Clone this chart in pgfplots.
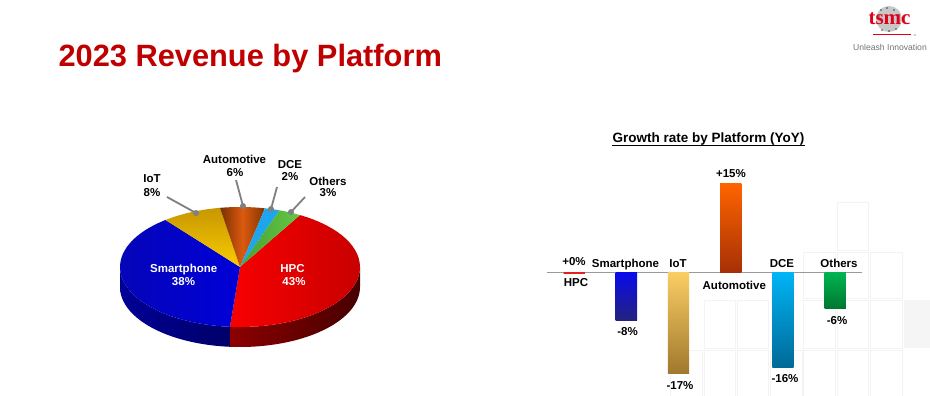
\documentclass[border=0pt]{standalone}
\usepackage{fontspec}
\setmainfont{Liberation Sans}
\newfontfamily\serifb{Liberation Serif}
\usepackage{pgfplots}
\pgfplotsset{compat=1.18}
\definecolor{ttl}{HTML}{C00000}
\definecolor{logored}{HTML}{E0001A}
\definecolor{hpcA}{RGB}{248,0,0}\definecolor{hpcB}{RGB}{200,0,0}
\definecolor{hpcSA}{RGB}{140,0,0}\definecolor{hpcSB}{RGB}{70,0,0}
\definecolor{spA}{RGB}{5,5,185}\definecolor{spB}{RGB}{0,0,215}
\definecolor{spSA}{RGB}{0,0,150}\definecolor{spSB}{RGB}{0,0,105}
\definecolor{iotA}{RGB}{200,150,0}\definecolor{iotB}{RGB}{248,205,0}
\definecolor{auA}{RGB}{120,48,0}\definecolor{auM}{RGB}{220,90,16}\definecolor{auB}{RGB}{130,52,0}
\definecolor{dceC}{RGB}{30,165,235}
\definecolor{othA}{RGB}{70,160,50}\definecolor{othB}{RGB}{100,200,70}
\definecolor{barHPC}{RGB}{230,30,30}
\definecolor{barSPa}{RGB}{10,10,235}\definecolor{barSPb}{RGB}{35,35,125}
\definecolor{barIOa}{RGB}{250,205,100}\definecolor{barIOb}{RGB}{160,120,45}
\definecolor{barAUa}{RGB}{255,100,0}\definecolor{barAUb}{RGB}{165,48,5}
\definecolor{barDCa}{RGB}{0,180,245}\definecolor{barDCb}{RGB}{0,105,150}
\definecolor{barOTa}{RGB}{0,180,80}\definecolor{barOTb}{RGB}{0,120,48}
\definecolor{sq}{RGB}{243,243,243}
\newcommand\lab{\fontsize{11.5}{13}\selectfont\bfseries}
% pie shares (percent), clockwise from 60 deg
\def\vHPC{43}\def\vSP{38}\def\vIoT{8}\def\vAuto{6}\def\vDCE{2}\def\vOth{3}
\pgfmathsetmacro\aA{60}
\pgfmathsetmacro\aB{\aA-3.6*\vHPC}
\pgfmathsetmacro\aC{\aB-3.6*\vSP}
\pgfmathsetmacro\aD{\aC-3.6*\vIoT}
\pgfmathsetmacro\aE{\aD-3.6*\vAuto}
\pgfmathsetmacro\aF{\aE-3.6*\vDCE}
\pgfmathsetmacro\aG{\aF-3.6*\vOth}
\newcommand\topface[2]{(240,267) -- plot[domain=#1:#2,samples=40] ({240+120*cos(\x)},{267-60*sin(\x)}) -- cycle}
\newcommand\sideface[2]{plot[domain=#1:#2,samples=40] ({240+120*cos(\x)},{267-60*sin(\x)}) -- plot[domain=#2:#1,samples=40] ({240+120*cos(\x)},{287-60*sin(\x)}) -- cycle}
\begin{document}
\begin{tikzpicture}
\useasboundingbox (0,0) rectangle (930pt,396pt);
\fill[white] (0,0) rectangle (930pt,396pt);
\begin{axis}[at={(0pt,0pt)}, anchor=south west, scale only axis, width=930pt, height=396pt,
  xmin=0, xmax=930, ymin=0, ymax=396, y dir=reverse, hide axis, clip=false]
% faint background squares
\draw[sq, line width=0.8pt] (837,202) rectangle (868,250);
\draw[sq, line width=0.8pt] (803,252) rectangle (835,298);
\draw[sq, line width=0.8pt] (837,252) rectangle (868,298);
\draw[sq, line width=0.8pt] (870,252) rectangle (902,298);
\draw[sq, line width=0.8pt] (704,300) rectangle (735,348);
\draw[sq, line width=0.8pt] (737,300) rectangle (768,348);
\draw[sq, line width=0.8pt] (803,300) rectangle (835,348);
\draw[sq, line width=0.8pt] (837,300) rectangle (868,348);
\draw[sq, line width=0.8pt] (870,300) rectangle (902,348);
\fill[black!4] (904,300) rectangle (930,348);
\draw[sq, line width=0.8pt] (670,350) rectangle (702,396);
\draw[sq, line width=0.8pt] (704,350) rectangle (735,396);
\draw[sq, line width=0.8pt] (737,350) rectangle (768,396);
\draw[sq, line width=0.8pt] (770,350) rectangle (802,396);
\draw[sq, line width=0.8pt] (803,350) rectangle (835,396);
\draw[sq, line width=0.8pt] (837,350) rectangle (868,396);
\draw[sq, line width=0.8pt] (870,350) rectangle (902,396);
% title
\node[anchor=base west, inner sep=0, text=ttl, font=\fontsize{30.8}{34}\selectfont\bfseries] at (58.3,67) {2023 Revenue by Platform};
% logo
\fill[black!22] (889,19) circle (13pt);
\fill[black!75] (881,10) circle (0.9pt);
\fill[black!75] (887,8) circle (0.9pt);
\fill[black!75] (894,10) circle (0.9pt);
\fill[black!75] (879,16) circle (0.9pt);
\fill[black!75] (899,15) circle (0.9pt);
\fill[black!75] (882,30) circle (0.9pt);
\fill[black!75] (889,31) circle (0.9pt);
\fill[black!75] (896,29) circle (0.9pt);
\node[anchor=base, inner sep=0, text=logored, font=\serifb\fontsize{21}{22}\selectfont\bfseries] at (889.5,25) {tsmc};
\draw[logored, line width=1.5pt] (873,34.3) -- (911,34.3);
\node[anchor=center, inner sep=0, text=black!60, font=\fontsize{3}{3}\selectfont] at (915,35) {®};
\node[anchor=base, inner sep=0, text=black!55, font=\fontsize{8.6}{9}\selectfont] at (890,51) {Unleash Innovation};
% pie side walls
\shade[left color=hpcSA, right color=hpcSB] \sideface{\aB}{0};
\shade[left color=spSA, right color=spSB] \sideface{-180}{\aB};
% pie top faces
\shade[left color=hpcA, right color=hpcB] \topface{\aB}{\aA};
\shade[left color=spA, right color=spB] \topface{\aC}{\aB};
\shade[top color=iotA, bottom color=iotB] \topface{\aD}{\aC};
\shade[left color=auA, right color=auB, middle color=auM] \topface{\aE}{\aD};
\fill[dceC] \topface{\aF}{\aE};
\shade[left color=othA, right color=othB] \topface{\aG}{\aF};
% leader lines
\draw[black!50, line width=1.8pt] (167,197) -- (196,213);
\fill[black!50] (196,213) circle (3pt);
\draw[black!50, line width=1.8pt] (236,180) -- (243,206);
\fill[black!50] (243,206) circle (3pt);
\draw[black!50, line width=1.8pt] (277,187) -- (271,209);
\fill[black!50] (271,209) circle (3pt);
\draw[black!50, line width=1.8pt] (305,197) -- (291,212);
\fill[black!50] (291,212) circle (3pt);
% pie labels
\node[anchor=base, inner sep=0, font=\lab] at (152,182) {IoT};
\node[anchor=base, inner sep=0, font=\lab] at (152,196) {8\%};
\node[anchor=base, inner sep=0, font=\lab] at (234.5,164) {Automotive};
\node[anchor=base, inner sep=0, font=\lab] at (235,176.3) {6\%};
\node[anchor=base, inner sep=0, font=\lab] at (290,168) {DCE};
\node[anchor=base, inner sep=0, font=\lab] at (290,180) {2\%};
\node[anchor=base, inner sep=0, font=\lab] at (328,185.7) {Others};
\node[anchor=base, inner sep=0, font=\lab] at (328,196.7) {3\%};
\node[anchor=base, inner sep=0, font=\lab, text=white] at (183.7,272.3) {Smartphone};
\node[anchor=base, inner sep=0, font=\lab, text=white] at (183.5,285.7) {38\%};
\node[anchor=base, inner sep=0, font=\lab, text=white] at (292.5,272) {HPC};
\node[anchor=base, inner sep=0, font=\lab, text=white] at (294,285.7) {43\%};
% bar chart texts
\node[anchor=base, inner sep=0, font=\fontsize{13.5}{15}\selectfont\bfseries] at (708.5,142.5) {Growth rate by Platform (YoY)};
\draw[black, line width=0.9pt] (611.7,145) -- (805,145);
\node[anchor=base, inner sep=0, font=\lab] at (574,265) {+0\%};
\node[anchor=base, inner sep=0, font=\lab] at (576,286.3) {HPC};
\node[anchor=base, inner sep=0, font=\lab] at (625.5,267.3) {Smartphone};
\node[anchor=base, inner sep=0, font=\lab] at (678,267.3) {IoT};
\node[anchor=base, inner sep=0, font=\lab] at (734.3,289) {Automotive};
\node[anchor=base, inner sep=0, font=\lab] at (731,177.3) {+15\%};
\node[anchor=base, inner sep=0, font=\lab] at (782,267.3) {DCE};
\node[anchor=base, inner sep=0, font=\lab] at (839,267.3) {Others};
\node[anchor=base, inner sep=0, font=\lab] at (627.5,335.7) {-8\%};
\node[anchor=base, inner sep=0, font=\lab] at (680,389) {-17\%};
\node[anchor=base, inner sep=0, font=\lab] at (785,382.3) {-16\%};
\node[anchor=base, inner sep=0, font=\lab] at (837,324) {-6\%};
\end{axis}
\begin{axis}[at={(547.3pt,4.3pt)}, anchor=south west, scale only axis, width=314.4pt, height=220.15pt,
  xmin=-0.515, xmax=5.508, ymin=-20, ymax=17, hide axis, clip=false]
\draw[black!40, line width=0.8pt] (-0.515,0) -- (5.508,0);
\addplot[ybar, bar width=21.3pt, bar shift=0pt, draw=barHPC, line width=2pt] coordinates {(0,0)};
\addplot[ybar, bar width=21.3pt, bar shift=0pt, draw=none, top color=barSPa, bottom color=barSPb] coordinates {(1,-8)};
\addplot[ybar, bar width=21.3pt, bar shift=0pt, draw=none, top color=barIOa, bottom color=barIOb] coordinates {(2,-17)};
\addplot[ybar, bar width=21.3pt, bar shift=0pt, draw=none, top color=barAUa, bottom color=barAUb] coordinates {(3,15)};
\addplot[ybar, bar width=21.3pt, bar shift=0pt, draw=none, top color=barDCa, bottom color=barDCb] coordinates {(4,-16)};
\addplot[ybar, bar width=21.3pt, bar shift=0pt, draw=none, top color=barOTa, bottom color=barOTb] coordinates {(5,-6)};
\end{axis}
\end{tikzpicture}
\end{document}
